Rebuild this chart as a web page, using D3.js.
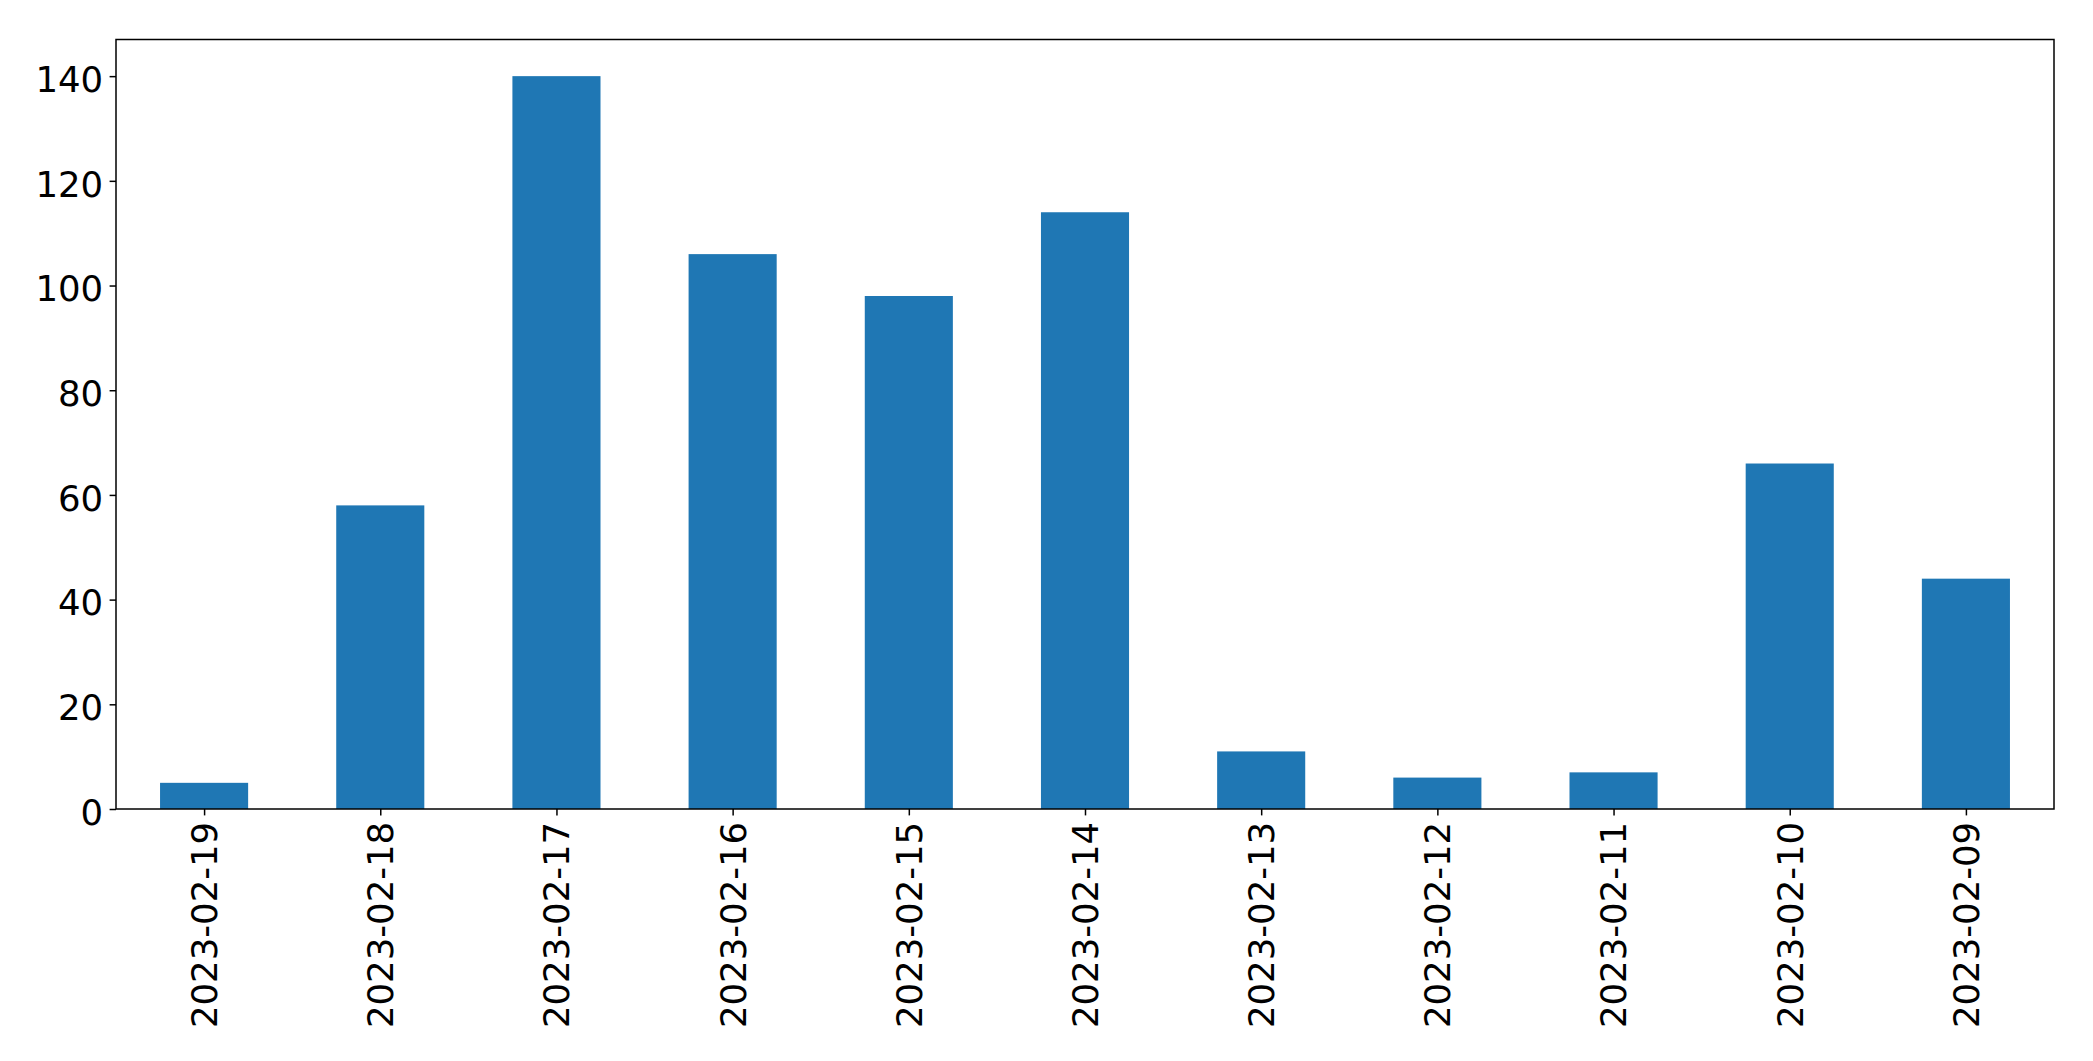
<!DOCTYPE html>
<html>
<head>
<meta charset="utf-8">
<script src="https://cdn.jsdelivr.net/npm/d3@7"></script>
<style>
html,body{margin:0;padding:0;background:#fff;}
svg{display:block;}
</style>
</head>
<body>
<svg id="chart" width="2093" height="1061"></svg>
<script>
const categories = ["2023-02-19","2023-02-18","2023-02-17","2023-02-16","2023-02-15","2023-02-14","2023-02-13","2023-02-12","2023-02-11","2023-02-10","2023-02-09"];
const values = [5, 58, 140, 106, 98, 114, 11, 6, 7, 66, 44];
const yTicks = [0, 20, 40, 60, 80, 100, 120, 140];

const W = 2093, H = 1061;
const margin = {left: 116, top: 39.5, right: 2093 - 2054, bottom: 1061 - 809};
const svg = d3.select("#chart");
const fontSize = 35.5;
const tickLen = 6.4, pad = 6.4;

const x = d3.scaleLinear().domain([-0.5, categories.length - 0.5]).range([margin.left, W - margin.right]);
const y = d3.scaleLinear().domain([0, 147]).range([H - margin.bottom, margin.top]);
const barW = x(0.5) - x(0);

svg.append("g").selectAll("rect").data(values).join("rect")
  .attr("x", (d, i) => x(i) - barW / 2)
  .attr("width", barW)
  .attr("y", d => y(d))
  .attr("height", d => y(0) - y(d))
  .attr("fill", "#1f77b4");

// Y axis
const yAxis = d3.axisLeft(y).tickValues(yTicks).tickSize(tickLen).tickPadding(pad).tickFormat(d3.format("d"));
const gy = svg.append("g").attr("transform", `translate(${margin.left},0)`).call(yAxis);
gy.select(".domain").remove();
gy.selectAll("line").attr("stroke", "#000").attr("stroke-width", 1.5);
gy.selectAll("text").attr("font-family", "DejaVu Sans").attr("font-size", fontSize).attr("fill", "#000")
  .attr("dy", "0.43em");

// X axis
const xAxis = d3.axisBottom(x).tickValues(d3.range(categories.length)).tickSize(tickLen).tickPadding(pad).tickFormat(i => categories[i]);
const gx = svg.append("g").attr("transform", `translate(0,${H - margin.bottom})`).call(xAxis);
gx.select(".domain").remove();
gx.selectAll("line").attr("stroke", "#000").attr("stroke-width", 1.5);
gx.selectAll("text")
  .attr("font-family", "DejaVu Sans").attr("font-size", fontSize).attr("fill", "#000")
  .attr("transform", "rotate(-90)")
  .attr("text-anchor", "end")
  .attr("x", -(tickLen + pad))
  .attr("y", 0)
  .attr("dy", "0.35em");

// Frame
svg.append("rect")
  .attr("x", margin.left).attr("y", margin.top)
  .attr("width", W - margin.right - margin.left)
  .attr("height", H - margin.bottom - margin.top)
  .attr("fill", "none").attr("stroke", "#000").attr("stroke-width", 1.5);
</script>
</body>
</html>
